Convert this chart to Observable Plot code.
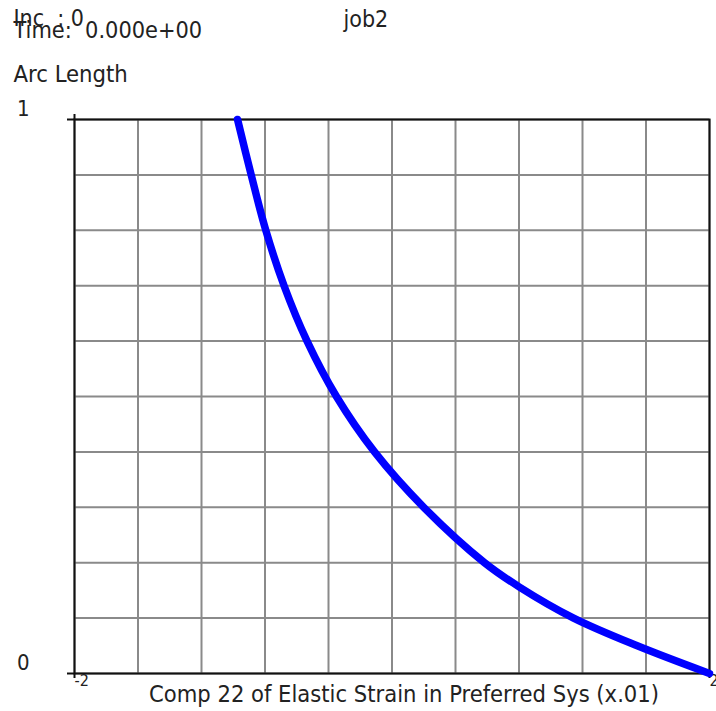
<!DOCTYPE html>
<html><head><meta charset="utf-8">
<script src="https://cdn.jsdelivr.net/npm/d3@7"></script>
<script src="https://cdn.jsdelivr.net/npm/@observablehq/plot@0.6"></script>
<style>
body{margin:0;background:#fff;}
svg{display:block}
svg text{white-space:pre}
</style>
</head><body><div id="chart"></div>
<script>
// ---- data ----
const strainX = [-0.973, -0.887, -0.795, -0.68, -0.535, -0.35, -0.11, 0.2, 0.583, 0.803, 1.144, 1.545, 2.0];
const arcLength = [1.0, 0.9, 0.8, 0.7, 0.6, 0.5, 0.4, 0.3, 0.2, 0.156, 0.1, 0.05, 0.0];
const xGrid = [-2, -1.6, -1.2, -0.8, -0.4, 0, 0.4, 0.8, 1.2, 1.6, 2];
const yGrid = [0, 0.1, 0.2, 0.3, 0.4, 0.5, 0.6, 0.7, 0.8, 0.9, 1];
const xTickLabels = [-2, 2];
const yTickLabels = [0, 1];
const incText = "Inc  : 0";
const timeText = "Time:  0.000e+00";
const jobText = "job2";
const yTitle = "Arc Length";
const xTitle = "Comp 22 of Elastic Strain in Preferred Sys (x.01)";

const points = strainX.map((x, i) => ({x, y: arcLength[i]}));
const FONT = '"DejaVu Sans Condensed", "DejaVu Sans", sans-serif';

const chart = Plot.plot({
  width: 716, height: 711,
  marginLeft: 74, marginRight: 7, marginTop: 119, marginBottom: 38,
  style: {fontFamily: FONT, background: "#fff", color: "#111"},
  x: {domain: [-2, 2]},
  y: {domain: [0, 1]},
  marks: [
    Plot.gridX(xGrid, {stroke: "#8a8a8a", strokeOpacity: 1, strokeWidth: 2}),
    Plot.gridY(yGrid, {stroke: "#8a8a8a", strokeOpacity: 1, strokeWidth: 2}),
    Plot.frame({stroke: "#111", strokeWidth: 2}),
    // tick stubs at the corners
    Plot.axisY(yTickLabels, {tickSize: 7, strokeWidth: 2, label: null, tickFormat: () => ""}),
    // tick labels 0 and 1
    Plot.axisY(yTickLabels, {tickSize: 0, tickPadding: 45, fontSize: 22, dy: -11, label: null, tickFormat: d => String(d), fill: "#222"}),
    Plot.axisX(xTickLabels, {anchor: "bottom", tickSize: 5, strokeWidth: 2, tickPadding: -4, textAnchor: "start", fontSize: 16, label: null, tickFormat: d => String(d), fill: "#222"}),
    Plot.axisX([-2], {anchor: "top", tickSize: 6, strokeWidth: 2, label: null, tickFormat: () => ""}),
    Plot.line(points, {x: "x", y: "y", stroke: "#0000ff", strokeWidth: 7.5, curve: "catmull-rom", strokeLinecap: "round", strokeLinejoin: "round"}),
    Plot.text([incText], {frameAnchor: "top-left", dx: -61, dy: -94, textAnchor: "start", lineAnchor: "bottom", fontSize: 23, fill: "#222"}),
    Plot.text([timeText], {frameAnchor: "top-left", dx: -61, dy: -82, textAnchor: "start", lineAnchor: "bottom", fontSize: 23.3, fill: "#222"}),
    Plot.text([jobText], {frameAnchor: "top-left", dx: 269, dy: -93, textAnchor: "start", lineAnchor: "bottom", fontSize: 23, fill: "#222"}),
    Plot.text([yTitle], {frameAnchor: "top-left", dx: -61, dy: -38, textAnchor: "start", lineAnchor: "bottom", fontSize: 23.6, fill: "#222"}),
    Plot.text([xTitle], {frameAnchor: "bottom", dx: 12, dy: 28, textAnchor: "middle", lineAnchor: "bottom", fontSize: 23.5, fill: "#222"})
  ]
});
document.getElementById("chart").appendChild(chart);
</script>
</body></html>
